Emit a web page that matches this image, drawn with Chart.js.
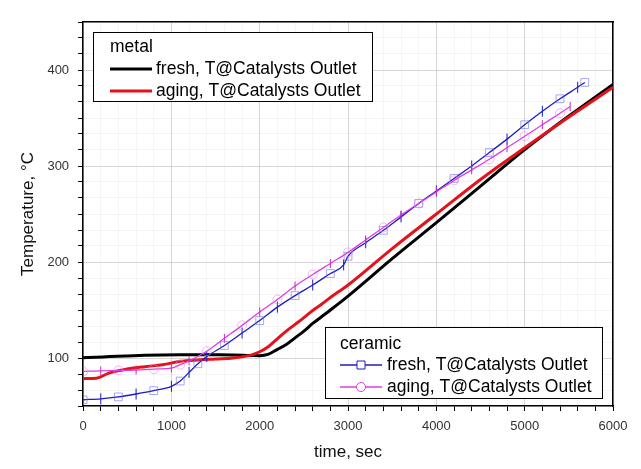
<!DOCTYPE html>
<html>
<head>
<meta charset="utf-8">
<script src="https://cdn.jsdelivr.net/npm/chart.js@4/dist/chart.umd.min.js"></script>
<style>
  body { margin: 0; background: #fff; }
  #wrap { width: 641px; height: 469px; }
</style>
</head>
<body>
<div id="wrap"><canvas id="tempchart" width="641" height="469"></canvas></div>
<script>
var tempCanvas = document.getElementById("tempchart");

/* data */
var metalTime = [0, 150, 300, 500, 700, 900, 1100, 1300, 1500, 1700, 1900, 2000, 2100, 2200, 2300, 2400, 2500, 2600, 2700, 2800, 3000, 3500, 4000, 4500, 5000, 5500, 6000];
var metalFresh = [100.3, 100.8, 101.5, 102.2, 102.8, 103.2, 103.4, 103.5, 103.4, 103.2, 102.6, 102.4, 104, 109, 114, 121, 128, 136, 143, 150, 164.5, 203.5, 241, 279, 317, 352, 385];
var metalAging = [78.5, 79, 84.5, 88.5, 91, 93, 96.5, 98, 99, 100, 103, 106.5, 112, 120, 128, 135, 142, 149.5, 156, 163, 176, 214, 250, 286, 319, 351, 382];

var ceramicFreshTime = [0, 200, 400, 600, 800, 1000, 1100, 1200, 1300, 1400, 1600, 1800, 2000, 2200, 2400, 2600, 2800, 2950, 3000, 3200, 3400, 3600, 3800, 4000, 4200, 4400, 4600, 4800, 5000, 5200, 5400, 5600, 5680];
var ceramicFresh = [56.5, 57.5, 59.5, 62.5, 66, 70.5, 76, 85, 94, 101.5, 113, 126, 139, 153, 165, 176, 188, 197, 206, 220, 233, 247, 261, 274, 287, 300, 314, 328, 343, 357, 370, 382, 387];

var ceramicAgingTime = [0, 200, 400, 600, 800, 1000, 1100, 1200, 1400, 1600, 1800, 2000, 2200, 2400, 2600, 2800, 3000, 3200, 3400, 3600, 3800, 4000, 4200, 4400, 4600, 4800, 5000, 5200, 5400, 5515];
var ceramicAging = [86, 86.5, 87, 87.5, 88.5, 89.5, 93, 97, 107, 120.5, 134, 148, 161, 175, 187, 198.5, 210, 223, 236, 249, 261, 273, 285, 296, 307, 319, 331, 343, 355, 362];

var xMin = 0, xMax = 6000, xMajor = 1000, xMinor = 200;
var yMin = 50, yMax = 450, yMajor = 100, yMinor = 100 / 6;

function pairs(xs, ys) {
  return xs.map(function (x, i) { return { x: x, y: ys[i] }; });
}
function isMajor(v, step) {
  return Math.abs(v / step - Math.round(v / step)) < 1e-6;
}

var fontFamily = "'Liberation Sans', Arial, sans-serif";

var temp_data = {
  datasets: [{
    label: 'fresh, T@Catalysts Outlet',
    group: 'metal',
    data: pairs(metalTime, metalFresh),
    borderColor: '#000000',
    borderWidth: 3,
    pointRadius: 0,
    cubicInterpolationMode: 'monotone',
    order: 4
  }, {
    label: 'aging, T@Catalysts Outlet',
    group: 'metal',
    data: pairs(metalTime, metalAging),
    borderColor: '#e3131b',
    borderWidth: 3,
    pointRadius: 0,
    cubicInterpolationMode: 'monotone',
    order: 3
  }, {
    label: 'fresh, T@Catalysts Outlet',
    group: 'ceramic',
    data: pairs(ceramicFreshTime, ceramicFresh),
    borderColor: '#1c1cc4',
    borderWidth: 1.3,
    cubicInterpolationMode: 'monotone',
    pointStyle: function (c) { return c.dataIndex % 2 ? 'line' : 'rect'; },
    pointRotation: function (c) { return c.dataIndex % 2 ? 90 : 0; },
    pointRadius: 5.5,
    pointBorderWidth: 1,
    pointBackgroundColor: 'rgba(0,0,0,0)',
    pointBorderColor: function (c) { return c.dataIndex % 2 ? '#1c1cc4' : 'rgba(110,110,225,0.6)'; },
    order: 2
  }, {
    label: 'aging, T@Catalysts Outlet',
    group: 'ceramic',
    data: pairs(ceramicAgingTime, ceramicAging),
    borderColor: '#e03ce0',
    borderWidth: 1.3,
    cubicInterpolationMode: 'monotone',
    pointStyle: function (c) { return c.dataIndex % 2 ? 'line' : 'circle'; },
    pointRotation: function (c) { return c.dataIndex % 2 ? 90 : 0; },
    pointRadius: 4.5,
    pointBorderWidth: 1,
    pointBackgroundColor: 'rgba(0,0,0,0)',
    pointBorderColor: function (c) { return c.dataIndex % 2 ? '#c62cc6' : 'rgba(230,140,230,0.6)'; },
    order: 1
  }]
};

// two boxed legends drawn from the datasets, like the origin plot
var boxLegends = {
  id: 'boxLegends',
  afterDraw: function (chart) {
    var ctx = chart.ctx;
    var sets = chart.data.datasets;
    var boxes = [
      { group: 'metal', x: 93, y: 32, w: 279, h: 69, rowY: [47, 69, 91], lx: 110, lw: 42, tx: 156 },
      { group: 'ceramic', x: 325, y: 327, w: 277, h: 71, rowY: [344, 365, 387], lx: 340, lw: 42, tx: 387 }
    ];
    ctx.save();
    boxes.forEach(function (b) {
      ctx.fillStyle = '#ffffff';
      ctx.fillRect(b.x, b.y, b.w, b.h);
      ctx.strokeStyle = '#000000';
      ctx.lineWidth = 1;
      ctx.strokeRect(b.x + 0.5, b.y + 0.5, b.w, b.h);
      ctx.font = '17.5px ' + fontFamily;
      ctx.fillStyle = '#000000';
      ctx.textBaseline = 'middle';
      ctx.textAlign = 'left';
      ctx.fillText(b.group, b.lx, b.rowY[0]);
      var row = 1;
      sets.forEach(function (ds) {
        if (ds.group !== b.group) return;
        var yy = b.rowY[row++];
        ctx.strokeStyle = ds.borderColor;
        ctx.lineWidth = ds.borderWidth;
        ctx.beginPath();
        ctx.moveTo(b.lx, yy);
        ctx.lineTo(b.lx + b.lw, yy);
        ctx.stroke();
        if (ds.pointRadius) {
          var cx = b.lx + b.lw / 2;
          ctx.fillStyle = '#ffffff';
          ctx.strokeStyle = ds.borderColor;
          ctx.lineWidth = 1;
          ctx.beginPath();
          if (ds.group === 'ceramic' && ds.label.indexOf('fresh') === 0) {
            ctx.rect(cx - 4, yy - 4, 8, 8);
          } else {
            ctx.arc(cx, yy, 4.5, 0, Math.PI * 2);
          }
          ctx.fill();
          ctx.stroke();
        }
        ctx.fillStyle = '#000000';
        ctx.fillText(ds.label, b.tx, yy);
      });
    });
    ctx.restore();
  }
};

var tempchart = new Chart(tempCanvas, {
  type: 'line',
  data: temp_data,
  plugins: [boxLegends],
  options: {
    responsive: false,
    animation: false,
    devicePixelRatio: 1,
    layout: { padding: { left: 18, right: 28, top: 22, bottom: 6 } },
    plugins: {
      legend: { display: false },
      tooltip: { enabled: false }
    },
    elements: {
      line: { tension: 0 }
    },
    scales: {
      x: {
        type: 'linear',
        position: 'bottom',
        min: xMin,
        max: xMax,
        ticks: {
          stepSize: xMinor,
          autoSkip: false,
          maxRotation: 0,
          padding: 8,
          color: '#333333',
          font: { family: fontFamily, size: 13 },
          callback: function (v) { return isMajor(v, xMajor) ? String(Math.round(v)) : ''; }
        },
        grid: {
          color: function (c) { return isMajor(c.tick.value, xMajor) ? '#d6d6d6' : 'rgba(0,0,0,0.04)'; },
          tickColor: '#000000',
          tickLength: 5
        },
        border: { color: '#000000', width: 1.5 },
        title: {
          display: true,
          text: 'time, sec',
          color: '#111111',
          font: { family: fontFamily, size: 17 },
          padding: { top: 0, bottom: 0 }
        }
      },
      x2: {
        type: 'linear',
        position: 'top',
        min: xMin,
        max: xMax,
        ticks: { display: false },
        grid: { drawOnChartArea: false, drawTicks: false },
        border: { color: '#000000', width: 1.5 }
      },
      y: {
        type: 'linear',
        position: 'left',
        min: yMin,
        max: yMax,
        ticks: {
          stepSize: yMinor,
          autoSkip: false,
          padding: 9,
          color: '#333333',
          font: { family: fontFamily, size: 13 },
          callback: function (v) { return isMajor(v, yMajor) ? String(Math.round(v)) : ''; }
        },
        grid: {
          color: function (c) { return isMajor(c.tick.value, yMajor) ? '#d6d6d6' : 'rgba(0,0,0,0.04)'; },
          tickColor: '#000000',
          tickLength: 5
        },
        border: { color: '#000000', width: 1.5 },
        title: {
          display: true,
          text: 'Temperature, \u00B0C',
          color: '#111111',
          font: { family: fontFamily, size: 17 },
          padding: { top: 0, bottom: 0 }
        }
      },
      y2: {
        type: 'linear',
        position: 'right',
        min: yMin,
        max: yMax,
        ticks: { display: false },
        grid: { drawOnChartArea: false, drawTicks: false },
        border: { color: '#000000', width: 1.5 }
      }
    }
  }
});
</script>
</body>
</html>
